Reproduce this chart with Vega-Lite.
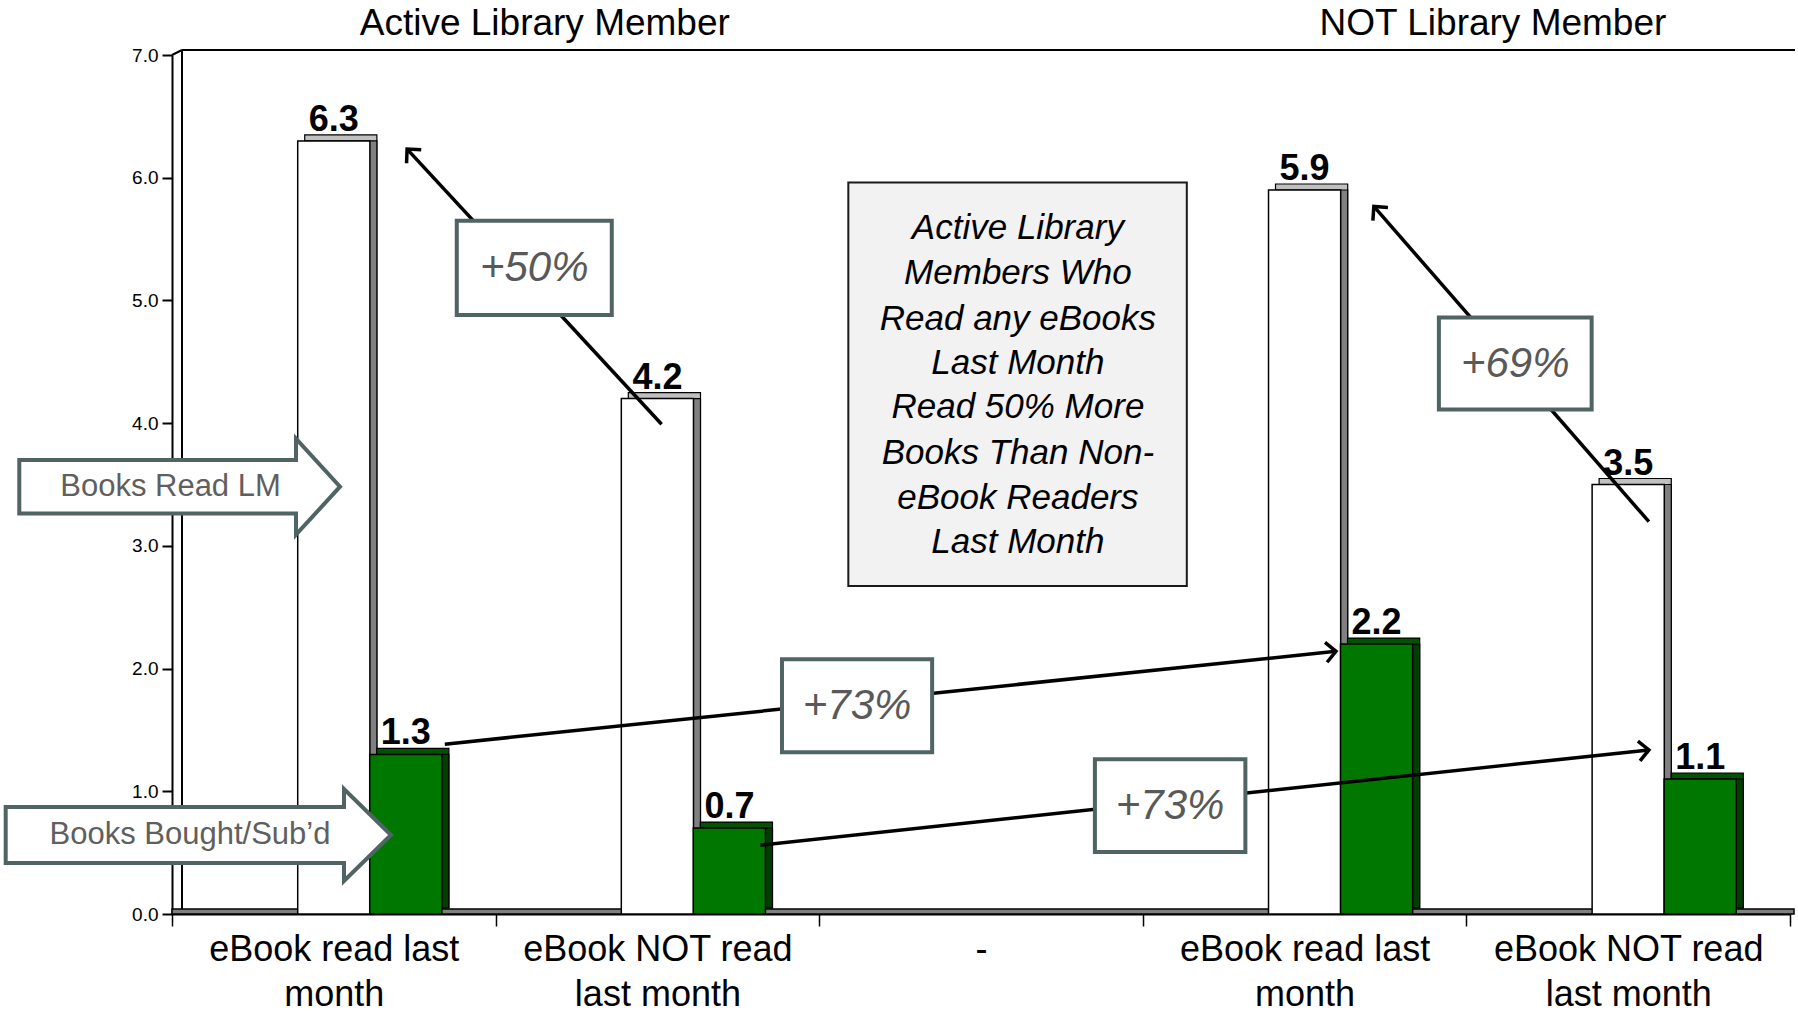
{
  "$schema": "https://vega.github.io/schema/vega-lite/v6.json",
  "width": 1618,
  "height": 859,
  "autosize": {"type": "none"},
  "padding": {"left": 172, "top": 55, "right": 8, "bottom": 103},
  "background": "white",
  "config": {
    "view": {"stroke": null},
    "font": "Liberation Sans",
    "axis": {"grid": false}
  },
  "datasets": {
    "bars": [
      {"column": "Active Library Member|eBook read last month", "series": "Books Read LM", "value": 6.3},
      {"column": "Active Library Member|eBook read last month", "series": "Books Bought/Sub’d", "value": 1.3},
      {"column": "Active Library Member|eBook NOT read last month", "series": "Books Read LM", "value": 4.2},
      {"column": "Active Library Member|eBook NOT read last month", "series": "Books Bought/Sub’d", "value": 0.7},
      {"column": "NOT Library Member|eBook read last month", "series": "Books Read LM", "value": 5.9},
      {"column": "NOT Library Member|eBook read last month", "series": "Books Bought/Sub’d", "value": 2.2},
      {"column": "NOT Library Member|eBook NOT read last month", "series": "Books Read LM", "value": 3.5},
      {"column": "NOT Library Member|eBook NOT read last month", "series": "Books Bought/Sub’d", "value": 1.1}
    ],
    "arrows": [
      {"note": "+50%", "fx": 1.513, "fy": 3.991, "tx": 0.7265, "ty": 6.233},
      {"note": "+69%", "fx": 4.564, "fy": 3.197, "tx": 3.714, "ty": 5.766},
      {"note": "+73% active", "fx": 0.843, "fy": 1.384, "tx": 3.597, "ty": 2.141},
      {"note": "+73% not read", "fx": 1.818, "fy": 0.561, "tx": 4.564, "ty": 1.337}
    ],
    "boxes": [
      {"label": "+50%", "x1": 0.880, "x2": 1.359, "y1": 4.882, "y2": 5.650, "cx": 1.1195, "cy": 5.266},
      {"label": "+69%", "x1": 3.915, "x2": 4.387, "y1": 4.112, "y2": 4.860, "cx": 4.151, "cy": 4.486},
      {"label": "+73%", "x1": 1.885, "x2": 2.349, "y1": 1.318, "y2": 2.075, "cx": 2.117, "cy": 1.6965},
      {"label": "+73%", "x1": 2.852, "x2": 3.317, "y1": 0.505, "y2": 1.262, "cx": 3.0845, "cy": 0.8835}
    ],
    "note": [
      {"x1": 2.090, "x2": 3.136, "y1": 2.673, "y2": 5.96}
    ],
    "noteLines": [
      {"line": "Active Library", "x": 2.614, "y": 5.590},
      {"line": "Members Who", "x": 2.614, "y": 5.226},
      {"line": "Read any eBooks", "x": 2.614, "y": 4.851},
      {"line": "Last Month", "x": 2.614, "y": 4.487},
      {"line": "Read 50% More", "x": 2.614, "y": 4.131},
      {"line": "Books Than Non-", "x": 2.614, "y": 3.758},
      {"line": "eBook Readers", "x": 2.614, "y": 3.393},
      {"line": "Last Month", "x": 2.614, "y": 3.029}
    ],
    "callouts": [
      {"label": "Books Read LM", "sx": 0.0247, "tx": -0.0046, "y": 3.482},
      {"label": "Books Bought/Sub’d", "sx": 0.0865, "tx": 0.0556, "y": 0.644}
    ],
    "headers": [
      {"label": "Active Library Member", "x": 1.152, "y": 7.25},
      {"label": "NOT Library Member", "x": 4.082, "y": 7.25}
    ]
  },
  "resolve": {"scale": {"x": "independent", "y": "independent"}},
  "layer": [
    {
      "data": {"values": [{}]},
      "encoding": {
        "x": {"type": "quantitative", "scale": {"domain": [0, 5], "nice": false, "zero": false}, "axis": null},
        "y": {"type": "quantitative", "scale": {"domain": [0, 7], "nice": false}, "axis": null}
      },
      "layer": [
        {
          "mark": {"type": "rect", "fill": "#808080", "stroke": "black", "strokeWidth": 1.5, "y2Offset": -5, "x2Offset": 4},
          "encoding": {
            "x": {"datum": 0, "type": "quantitative"},
            "x2": {"datum": 5},
            "y": {"datum": 0, "type": "quantitative"},
            "y2": {"datum": 0}
          }
        },
        {
          "mark": {"type": "rule", "stroke": "black", "strokeWidth": 2, "xOffset": 10, "yOffset": -5, "y2Offset": -5},
          "encoding": {
            "x": {"datum": 0, "type": "quantitative"},
            "y": {"datum": 0, "type": "quantitative"},
            "y2": {"datum": 7}
          }
        },
        {
          "mark": {"type": "rule", "stroke": "black", "strokeWidth": 2, "xOffset": 10, "x2Offset": 5, "yOffset": -5},
          "encoding": {
            "x": {"datum": 0, "type": "quantitative"},
            "x2": {"datum": 5},
            "y": {"datum": 7, "type": "quantitative"}
          }
        },
        {
          "mark": {"type": "rule", "stroke": "black", "strokeWidth": 2, "x2Offset": 10, "y2Offset": -5},
          "encoding": {
            "x": {"datum": 0, "type": "quantitative"},
            "x2": {"datum": 0},
            "y": {"datum": 7, "type": "quantitative"},
            "y2": {"datum": 7}
          }
        }
      ]
    },
    {
      "data": {"name": "bars"},
      "encoding": {
        "x": {
          "field": "column",
          "type": "nominal",
          "sort": null,
          "scale": {
            "domain": ["Active Library Member|eBook read last month", "Active Library Member|eBook NOT read last month", "-", "NOT Library Member|eBook read last month", "NOT Library Member|eBook NOT read last month"],
            "paddingInner": 0,
            "paddingOuter": 0
          },
          "axis": {
            "orient": "bottom",
            "title": null,
            "labelExpr": "isString(datum.value) ? (datum.value == '-' ? '-' : (indexof(datum.value, 'NOT read') >= 0 ? ['eBook NOT read', 'last month'] : ['eBook read last', 'month'])) : ''",
            "tickBand": "extent",
            "labelFont": "Liberation Sans",
            "labelFontSize": 36,
            "labelLineHeight": 45,
            "labelPadding": 6,
            "labelColor": "black",
            "labelAngle": 0,
            "labelLimit": 500,
            "labelOverlap": false,
            "labelBaseline": "top",
            "tickSize": 12,
            "tickWidth": 1.5,
            "tickColor": "black",
            "domainColor": "black",
            "domainWidth": 2
          }
        },
        "y": {
          "field": "value",
          "type": "quantitative",
          "scale": {"domain": [0, 7], "nice": false},
          "axis": {
            "orient": "left",
            "title": null,
            "values": [0, 1, 2, 3, 4, 5, 6, 7],
            "format": ".1f",
            "labelFont": "Liberation Sans",
            "labelFontSize": 19,
            "labelColor": "black",
            "labelPadding": 4,
            "tickSize": 10,
            "tickWidth": 2,
            "tickColor": "black",
            "domainColor": "black",
            "domainWidth": 2
          }
        }
      },
      "layer": [
        {
          "transform": [{"filter": "datum.series == 'Books Read LM'"}],
          "mark": {"type": "bar", "width": {"band": 0.223}, "fill": "#c0c0c0", "stroke": "black", "strokeWidth": 1.2, "xOffset": 7, "yOffset": -6, "y2Offset": -6},
          "encoding": {"y2": {"datum": 0}}
        },
        {
          "transform": [{"filter": "datum.series == 'Books Read LM'"}],
          "mark": {"type": "bar", "width": {"band": 0.223}, "fill": "#808080", "stroke": "black", "strokeWidth": 1.2, "xOffset": 7, "y2Offset": -6},
          "encoding": {"y2": {"datum": 0}}
        },
        {
          "transform": [{"filter": "datum.series == 'Books Read LM'"}],
          "mark": {"type": "bar", "width": {"band": 0.223}, "fill": "white", "stroke": "black", "strokeWidth": 1.5}
        },
        {
          "transform": [{"filter": "datum.series != 'Books Read LM'"}],
          "mark": {"type": "bar", "width": {"band": 0.223}, "fill": "#005400", "stroke": "black", "strokeWidth": 1.2, "xOffset": 79, "yOffset": -6, "y2Offset": -6},
          "encoding": {"y2": {"datum": 0}}
        },
        {
          "transform": [{"filter": "datum.series != 'Books Read LM'"}],
          "mark": {"type": "bar", "width": {"band": 0.223}, "fill": "#003f00", "stroke": "black", "strokeWidth": 1.2, "xOffset": 79, "y2Offset": -6},
          "encoding": {"y2": {"datum": 0}}
        },
        {
          "transform": [{"filter": "datum.series != 'Books Read LM'"}],
          "mark": {"type": "bar", "width": {"band": 0.223}, "fill": "#007800", "stroke": "black", "strokeWidth": 1.5, "xOffset": 72}
        },
        {
          "transform": [{"filter": "datum.series == 'Books Read LM'"}],
          "mark": {"type": "text", "font": "Liberation Sans", "fontSize": 36, "fontWeight": "bold", "fill": "black", "align": "center", "baseline": "alphabetic", "dy": -10},
          "encoding": {"text": {"field": "value", "type": "quantitative", "format": ".1f"}}
        },
        {
          "transform": [{"filter": "datum.series != 'Books Read LM'"}],
          "mark": {"type": "text", "font": "Liberation Sans", "fontSize": 36, "fontWeight": "bold", "fill": "black", "align": "center", "baseline": "alphabetic", "dy": -10, "xOffset": 72},
          "encoding": {"text": {"field": "value", "type": "quantitative", "format": ".1f"}}
        }
      ]
    },
    {
      "encoding": {
        "x": {"type": "quantitative", "scale": {"domain": [0, 5], "nice": false, "zero": false}, "axis": null},
        "y": {"type": "quantitative", "scale": {"domain": [0, 7], "nice": false}, "axis": null}
      },
      "layer": [
        {
          "data": {"name": "arrows"},
          "mark": {"type": "rule", "stroke": "black", "strokeWidth": 3.5},
          "encoding": {
            "x": {"field": "fx", "type": "quantitative"},
            "x2": {"field": "tx"},
            "y": {"field": "fy", "type": "quantitative"},
            "y2": {"field": "ty"}
          }
        },
        {
          "data": {"name": "arrows"},
          "mark": {"type": "point", "shape": "M-1,1L0,0L1,1", "filled": false, "stroke": "black", "strokeWidth": 3.5, "size": 400, "opacity": 1, "angle": {"expr": "atan2((datum.tx - datum.fx) * 323.6, (datum.ty - datum.fy) * 122.71) * 180 / PI"}},
          "encoding": {
            "x": {"field": "tx", "type": "quantitative"},
            "y": {"field": "ty", "type": "quantitative"}
          }
        },
        {
          "data": {"name": "boxes"},
          "mark": {"type": "rect", "fill": "white", "stroke": "#506464", "strokeWidth": 4},
          "encoding": {
            "x": {"field": "x1", "type": "quantitative"},
            "x2": {"field": "x2"},
            "y": {"field": "y1", "type": "quantitative"},
            "y2": {"field": "y2"}
          }
        },
        {
          "data": {"name": "boxes"},
          "mark": {"type": "text", "font": "Liberation Sans", "fontStyle": "italic", "fontSize": 42, "fill": "#595959", "align": "center", "baseline": "middle"},
          "encoding": {
            "x": {"field": "cx", "type": "quantitative"},
            "y": {"field": "cy", "type": "quantitative"},
            "text": {"field": "label"}
          }
        },
        {
          "data": {"name": "note"},
          "mark": {"type": "rect", "fill": "#f2f2f2", "stroke": "#1a1a1a", "strokeWidth": 2},
          "encoding": {
            "x": {"field": "x1", "type": "quantitative"},
            "x2": {"field": "x2"},
            "y": {"field": "y1", "type": "quantitative"},
            "y2": {"field": "y2"}
          }
        },
        {
          "data": {"name": "noteLines"},
          "mark": {"type": "text", "font": "Liberation Sans", "fontStyle": "italic", "fontSize": 35, "fill": "black", "align": "center", "baseline": "middle"},
          "encoding": {
            "x": {"field": "x", "type": "quantitative"},
            "y": {"field": "y", "type": "quantitative"},
            "text": {"field": "line"}
          }
        },
        {
          "data": {"name": "callouts"},
          "transform": [{"filter": "datum.label == 'Books Read LM'"}],
          "mark": {"type": "point", "shape": "M-16.07,-2.67L11.6,-2.67L11.6,-4.8L16,0L11.6,4.8L11.6,2.67L-16.07,2.67Z", "size": 400, "filled": true, "fill": "white", "stroke": "#506464", "strokeWidth": 4, "opacity": 1},
          "encoding": {
            "x": {"field": "sx", "type": "quantitative"},
            "y": {"field": "y", "type": "quantitative"}
          }
        },
        {
          "data": {"name": "callouts"},
          "transform": [{"filter": "datum.label != 'Books Read LM'"}],
          "mark": {"type": "point", "shape": "M-19.43,-2.8L14.4,-2.8L14.4,-4.6L19.1,0L14.4,4.6L14.4,2.8L-19.43,2.8Z", "size": 400, "filled": true, "fill": "white", "stroke": "#506464", "strokeWidth": 4, "opacity": 1},
          "encoding": {
            "x": {"field": "sx", "type": "quantitative"},
            "y": {"field": "y", "type": "quantitative"}
          }
        },
        {
          "data": {"name": "callouts"},
          "mark": {"type": "text", "font": "Liberation Sans", "fontSize": 31, "fill": "#5f5f5f", "align": "center", "baseline": "middle"},
          "encoding": {
            "x": {"field": "tx", "type": "quantitative"},
            "y": {"field": "y", "type": "quantitative"},
            "text": {"field": "label"}
          }
        },
        {
          "data": {"name": "headers"},
          "mark": {"type": "text", "font": "Liberation Sans", "fontSize": 37, "fill": "black", "align": "center", "baseline": "middle"},
          "encoding": {
            "x": {"field": "x", "type": "quantitative"},
            "y": {"field": "y", "type": "quantitative"},
            "text": {"field": "label"}
          }
        }
      ]
    }
  ]
}
